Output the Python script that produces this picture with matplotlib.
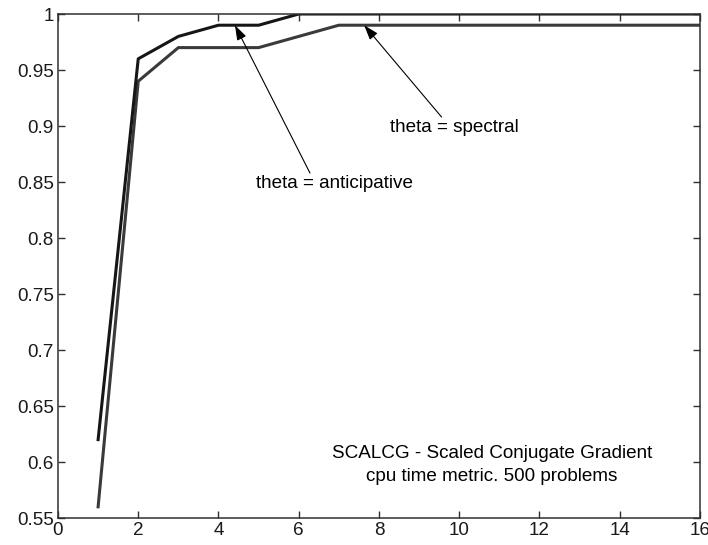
import matplotlib
matplotlib.use("Agg")
from matplotlib import pyplot as plt
from matplotlib.ticker import FormatStrFormatter

plt.rcParams['font.family'] = ['Liberation Sans', 'DejaVu Sans']

# performance profile data
tau = list(range(1, 17))
anticipative = [0.62, 0.96, 0.98, 0.99, 0.99, 1.0, 1.0, 1.0, 1.0, 1.0, 1.0, 1.0, 1.0, 1.0, 1.0, 1.0]
spectral = [0.56, 0.94, 0.97, 0.97, 0.97, 0.98, 0.99, 0.99, 0.99, 0.99, 0.99, 0.99, 0.99, 0.99, 0.99, 0.99]

xticks = [0, 2, 4, 6, 8, 10, 12, 14, 16]
yticks = [0.55, 0.6, 0.65, 0.7, 0.75, 0.8, 0.85, 0.9, 0.95, 1.0]

fs = 13.6

fig = plt.figure(figsize=(7.08, 5.45), dpi=100)
ax = fig.add_axes([0.0819, 0.0495, 0.9068, 0.9248])

ax.plot(tau, spectral, color='#3a3a3a', lw=2.2)
ax.plot(tau, anticipative, color='#161616', lw=2.2)

ax.set_xlim(0, 16)
ax.set_ylim(0.55, 1)
ax.set_xticks(xticks)
ax.set_yticks(yticks)
ax.yaxis.set_major_formatter(FormatStrFormatter('%g'))
ax.tick_params(direction='in', length=5, width=1, top=True, right=True,
               labelsize=fs, colors='#303030', labelcolor='#1a1a1a', pad=3)
for s in ax.spines.values():
    s.set_color('#303030')
    s.set_linewidth(1.1)

arrow = dict(arrowstyle='-|>,head_length=0.9,head_width=0.3', color='black', lw=0.8,
             shrinkA=0, shrinkB=0)
ax.annotate('', xy=(4.41, 0.99), xytext=(6.28, 0.858), arrowprops=arrow)
ax.annotate('', xy=(7.63, 0.99), xytext=(9.56, 0.908), arrowprops=arrow)
ax.text(6.9, 0.849, 'theta = anticipative', ha='center', va='center', fontsize=fs)
ax.text(9.87, 0.899, 'theta = spectral', ha='center', va='center', fontsize=fs)

ax.text(10.82, 0.608, 'SCALCG - Scaled Conjugate Gradient', ha='center', va='center', fontsize=fs)
ax.text(10.82, 0.587, 'cpu time metric. 500 problems', ha='center', va='center', fontsize=fs)

fig.savefig('out.png', dpi=100)
